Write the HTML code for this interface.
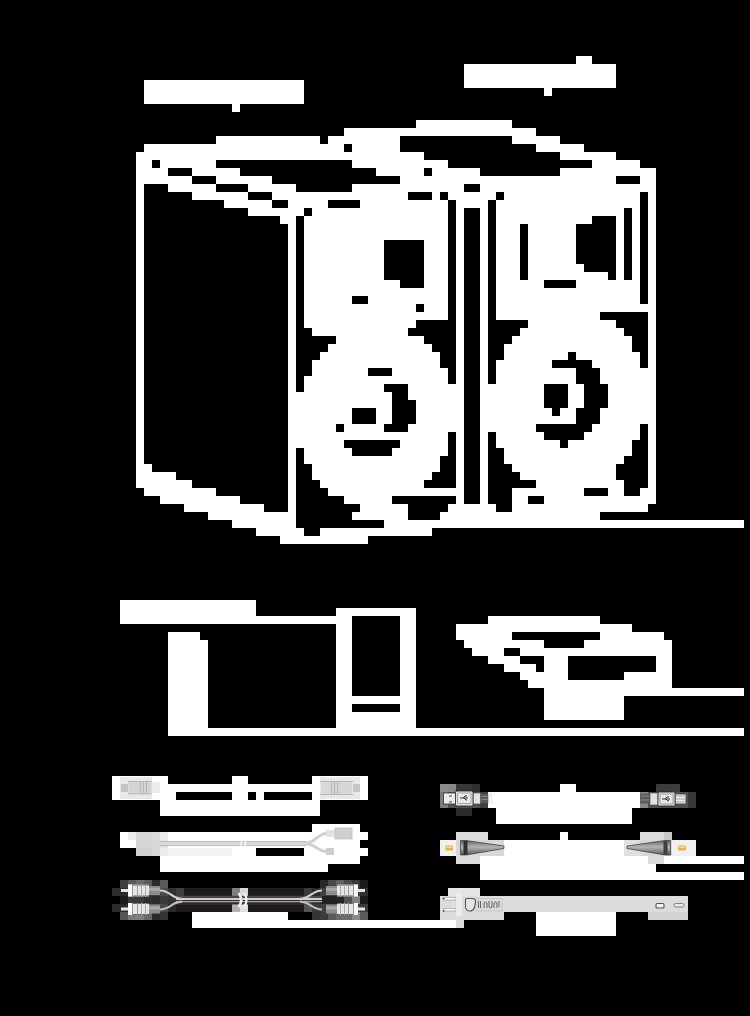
<!DOCTYPE html>
<html><head><meta charset="utf-8"><style>
html,body{margin:0;padding:0;background:#000;width:750px;height:1016px;overflow:hidden;font-family:"Liberation Sans",sans-serif}
svg{display:block}
</style></head><body>
<svg width="750" height="1016" viewBox="0 0 750 1016" >
<rect width="750" height="1016" fill="#000"/>
<rect x="576" y="56" width="16" height="8" fill="#fff"/>
<rect x="464" y="64" width="152" height="24" fill="#fff"/>
<rect x="144" y="80" width="160" height="24" fill="#fff"/>
<rect x="544" y="88" width="8" height="8" fill="#fff"/>
<rect x="232" y="104" width="8" height="8" fill="#fff"/>
<rect x="416" y="120" width="96" height="8" fill="#fff"/>
<rect x="344" y="128" width="192" height="8" fill="#fff"/>
<rect x="216" y="136" width="104" height="8" fill="#fff"/>
<rect x="328" y="136" width="72" height="8" fill="#fff"/>
<rect x="512" y="136" width="48" height="8" fill="#fff"/>
<rect x="144" y="144" width="200" height="8" fill="#fff"/>
<rect x="352" y="144" width="48" height="8" fill="#fff"/>
<rect x="536" y="144" width="48" height="8" fill="#fff"/>
<rect x="136" y="152" width="288" height="8" fill="#fff"/>
<rect x="560" y="152" width="56" height="8" fill="#fff"/>
<rect x="136" y="160" width="16" height="8" fill="#fff"/>
<rect x="136" y="464" width="16" height="8" fill="#fff"/>
<rect x="160" y="160" width="56" height="8" fill="#fff"/>
<rect x="352" y="160" width="96" height="8" fill="#fff"/>
<rect x="592" y="160" width="48" height="8" fill="#fff"/>
<rect x="592" y="360" width="48" height="8" fill="#fff"/>
<rect x="592" y="424" width="48" height="8" fill="#fff"/>
<rect x="136" y="168" width="32" height="8" fill="#fff"/>
<rect x="192" y="168" width="48" height="8" fill="#fff"/>
<rect x="376" y="168" width="48" height="8" fill="#fff"/>
<rect x="432" y="168" width="48" height="8" fill="#fff"/>
<rect x="560" y="168" width="96" height="8" fill="#fff"/>
<rect x="136" y="176" width="56" height="8" fill="#fff"/>
<rect x="136" y="480" width="56" height="8" fill="#fff"/>
<rect x="216" y="176" width="56" height="8" fill="#fff"/>
<rect x="400" y="176" width="216" height="8" fill="#fff"/>
<rect x="640" y="176" width="16" height="8" fill="#fff"/>
<rect x="640" y="488" width="16" height="8" fill="#fff"/>
<rect x="136" y="184" width="8" height="280" fill="#fff"/>
<rect x="168" y="184" width="48" height="8" fill="#fff"/>
<rect x="248" y="184" width="48" height="8" fill="#fff"/>
<rect x="352" y="184" width="112" height="8" fill="#fff"/>
<rect x="480" y="184" width="176" height="8" fill="#fff"/>
<rect x="480" y="864" width="176" height="8" fill="#fff"/>
<rect x="192" y="192" width="56" height="8" fill="#fff"/>
<rect x="272" y="192" width="136" height="8" fill="#fff"/>
<rect x="432" y="192" width="8" height="8" fill="#fff"/>
<rect x="448" y="192" width="48" height="8" fill="#fff"/>
<rect x="448" y="504" width="48" height="8" fill="#fff"/>
<rect x="504" y="192" width="136" height="8" fill="#fff"/>
<rect x="648" y="192" width="8" height="112" fill="#fff"/>
<rect x="648" y="312" width="8" height="56" fill="#fff"/>
<rect x="648" y="424" width="8" height="64" fill="#fff"/>
<rect x="224" y="200" width="48" height="8" fill="#fff"/>
<rect x="288" y="200" width="40" height="8" fill="#fff"/>
<rect x="360" y="200" width="88" height="8" fill="#fff"/>
<rect x="456" y="200" width="32" height="8" fill="#fff"/>
<rect x="496" y="200" width="144" height="8" fill="#fff"/>
<rect x="496" y="288" width="144" height="16" fill="#fff"/>
<rect x="248" y="208" width="56" height="8" fill="#fff"/>
<rect x="312" y="208" width="136" height="8" fill="#fff"/>
<rect x="456" y="208" width="8" height="176" fill="#fff"/>
<rect x="456" y="432" width="8" height="56" fill="#fff"/>
<rect x="456" y="496" width="8" height="8" fill="#fff"/>
<rect x="480" y="208" width="8" height="176" fill="#fff"/>
<rect x="480" y="432" width="8" height="72" fill="#fff"/>
<rect x="496" y="208" width="128" height="8" fill="#fff"/>
<rect x="632" y="208" width="8" height="72" fill="#fff"/>
<rect x="280" y="216" width="16" height="8" fill="#fff"/>
<rect x="304" y="216" width="144" height="24" fill="#fff"/>
<rect x="304" y="288" width="144" height="8" fill="#fff"/>
<rect x="304" y="312" width="144" height="8" fill="#fff"/>
<rect x="304" y="376" width="144" height="8" fill="#fff"/>
<rect x="496" y="216" width="96" height="8" fill="#fff"/>
<rect x="616" y="216" width="8" height="64" fill="#fff"/>
<rect x="288" y="224" width="8" height="168" fill="#fff"/>
<rect x="288" y="448" width="8" height="64" fill="#fff"/>
<rect x="496" y="224" width="24" height="56" fill="#fff"/>
<rect x="528" y="224" width="48" height="40" fill="#fff"/>
<rect x="304" y="240" width="80" height="40" fill="#fff"/>
<rect x="304" y="384" width="80" height="8" fill="#fff"/>
<rect x="424" y="240" width="24" height="48" fill="#fff"/>
<rect x="424" y="304" width="24" height="8" fill="#fff"/>
<rect x="528" y="264" width="56" height="8" fill="#fff"/>
<rect x="528" y="272" width="80" height="8" fill="#fff"/>
<rect x="304" y="280" width="96" height="8" fill="#fff"/>
<rect x="496" y="280" width="48" height="8" fill="#fff"/>
<rect x="496" y="432" width="48" height="8" fill="#fff"/>
<rect x="576" y="280" width="64" height="8" fill="#fff"/>
<rect x="576" y="352" width="64" height="8" fill="#fff"/>
<rect x="304" y="296" width="48" height="8" fill="#fff"/>
<rect x="304" y="448" width="48" height="8" fill="#fff"/>
<rect x="368" y="296" width="80" height="8" fill="#fff"/>
<rect x="304" y="304" width="112" height="8" fill="#fff"/>
<rect x="304" y="320" width="112" height="8" fill="#fff"/>
<rect x="496" y="304" width="160" height="8" fill="#fff"/>
<rect x="496" y="312" width="104" height="8" fill="#fff"/>
<rect x="528" y="320" width="88" height="8" fill="#fff"/>
<rect x="312" y="328" width="96" height="8" fill="#fff"/>
<rect x="520" y="328" width="104" height="8" fill="#fff"/>
<rect x="336" y="336" width="88" height="8" fill="#fff"/>
<rect x="512" y="336" width="120" height="8" fill="#fff"/>
<rect x="328" y="344" width="104" height="8" fill="#fff"/>
<rect x="504" y="344" width="128" height="8" fill="#fff"/>
<rect x="504" y="448" width="128" height="8" fill="#fff"/>
<rect x="320" y="352" width="120" height="8" fill="#fff"/>
<rect x="504" y="352" width="64" height="8" fill="#fff"/>
<rect x="312" y="360" width="128" height="8" fill="#fff"/>
<rect x="312" y="464" width="128" height="8" fill="#fff"/>
<rect x="496" y="360" width="56" height="8" fill="#fff"/>
<rect x="312" y="368" width="56" height="8" fill="#fff"/>
<rect x="312" y="776" width="56" height="8" fill="#fff"/>
<rect x="312" y="792" width="56" height="8" fill="#fff"/>
<rect x="392" y="368" width="56" height="8" fill="#fff"/>
<rect x="392" y="448" width="56" height="8" fill="#fff"/>
<rect x="496" y="368" width="80" height="16" fill="#fff"/>
<rect x="600" y="368" width="56" height="16" fill="#fff"/>
<rect x="600" y="408" width="56" height="16" fill="#fff"/>
<rect x="408" y="384" width="56" height="16" fill="#fff"/>
<rect x="408" y="424" width="56" height="8" fill="#fff"/>
<rect x="480" y="384" width="64" height="24" fill="#fff"/>
<rect x="568" y="384" width="16" height="24" fill="#fff"/>
<rect x="608" y="384" width="48" height="24" fill="#fff"/>
<rect x="288" y="392" width="104" height="16" fill="#fff"/>
<rect x="416" y="400" width="48" height="24" fill="#fff"/>
<rect x="288" y="408" width="64" height="16" fill="#fff"/>
<rect x="376" y="408" width="16" height="16" fill="#fff"/>
<rect x="480" y="408" width="72" height="8" fill="#fff"/>
<rect x="560" y="408" width="16" height="8" fill="#fff"/>
<rect x="560" y="784" width="16" height="8" fill="#fff"/>
<rect x="480" y="416" width="96" height="8" fill="#fff"/>
<rect x="288" y="424" width="48" height="8" fill="#fff"/>
<rect x="344" y="424" width="40" height="8" fill="#fff"/>
<rect x="480" y="424" width="56" height="8" fill="#fff"/>
<rect x="288" y="432" width="160" height="8" fill="#fff"/>
<rect x="584" y="432" width="56" height="8" fill="#fff"/>
<rect x="288" y="440" width="56" height="8" fill="#fff"/>
<rect x="400" y="440" width="48" height="8" fill="#fff"/>
<rect x="496" y="440" width="64" height="8" fill="#fff"/>
<rect x="568" y="440" width="64" height="8" fill="#fff"/>
<rect x="304" y="456" width="136" height="8" fill="#fff"/>
<rect x="504" y="456" width="120" height="8" fill="#fff"/>
<rect x="504" y="840" width="120" height="16" fill="#fff"/>
<rect x="512" y="464" width="104" height="8" fill="#fff"/>
<rect x="136" y="472" width="40" height="8" fill="#fff"/>
<rect x="312" y="472" width="120" height="8" fill="#fff"/>
<rect x="520" y="472" width="96" height="8" fill="#fff"/>
<rect x="320" y="480" width="104" height="8" fill="#fff"/>
<rect x="536" y="480" width="88" height="8" fill="#fff"/>
<rect x="144" y="488" width="72" height="8" fill="#fff"/>
<rect x="328" y="488" width="136" height="8" fill="#fff"/>
<rect x="512" y="488" width="72" height="8" fill="#fff"/>
<rect x="608" y="488" width="16" height="8" fill="#fff"/>
<rect x="160" y="496" width="80" height="8" fill="#fff"/>
<rect x="344" y="496" width="48" height="8" fill="#fff"/>
<rect x="512" y="496" width="16" height="8" fill="#fff"/>
<rect x="544" y="496" width="112" height="8" fill="#fff"/>
<rect x="184" y="504" width="80" height="8" fill="#fff"/>
<rect x="360" y="504" width="48" height="8" fill="#fff"/>
<rect x="512" y="504" width="136" height="8" fill="#fff"/>
<rect x="208" y="512" width="88" height="8" fill="#fff"/>
<rect x="352" y="512" width="56" height="8" fill="#fff"/>
<rect x="440" y="512" width="160" height="8" fill="#fff"/>
<rect x="232" y="520" width="64" height="8" fill="#fff"/>
<rect x="384" y="520" width="360" height="8" fill="#fff"/>
<rect x="256" y="528" width="48" height="8" fill="#fff"/>
<rect x="320" y="528" width="112" height="8" fill="#fff"/>
<rect x="280" y="536" width="88" height="8" fill="#fff"/>
<rect x="120" y="600" width="136" height="16" fill="#fff"/>
<rect x="336" y="608" width="80" height="8" fill="#fff"/>
<rect x="336" y="696" width="80" height="8" fill="#fff"/>
<rect x="336" y="712" width="80" height="16" fill="#fff"/>
<rect x="120" y="616" width="232" height="8" fill="#fff"/>
<rect x="400" y="616" width="16" height="80" fill="#fff"/>
<rect x="400" y="704" width="16" height="8" fill="#fff"/>
<rect x="488" y="616" width="112" height="8" fill="#fff"/>
<rect x="336" y="624" width="16" height="72" fill="#fff"/>
<rect x="336" y="704" width="16" height="8" fill="#fff"/>
<rect x="456" y="624" width="176" height="8" fill="#fff"/>
<rect x="168" y="632" width="32" height="8" fill="#fff"/>
<rect x="456" y="632" width="56" height="8" fill="#fff"/>
<rect x="600" y="632" width="64" height="8" fill="#fff"/>
<rect x="168" y="640" width="40" height="88" fill="#fff"/>
<rect x="464" y="640" width="80" height="8" fill="#fff"/>
<rect x="584" y="640" width="88" height="8" fill="#fff"/>
<rect x="472" y="648" width="32" height="8" fill="#fff"/>
<rect x="520" y="648" width="152" height="8" fill="#fff"/>
<rect x="488" y="656" width="32" height="8" fill="#fff"/>
<rect x="544" y="656" width="24" height="16" fill="#fff"/>
<rect x="656" y="656" width="16" height="16" fill="#fff"/>
<rect x="504" y="664" width="32" height="8" fill="#fff"/>
<rect x="520" y="672" width="48" height="8" fill="#fff"/>
<rect x="624" y="672" width="48" height="8" fill="#fff"/>
<rect x="528" y="680" width="144" height="8" fill="#fff"/>
<rect x="544" y="688" width="200" height="8" fill="#fff"/>
<rect x="544" y="696" width="80" height="24" fill="#fff"/>
<rect x="168" y="728" width="576" height="8" fill="#fff"/>
<rect x="112" y="776" width="56" height="8" fill="#fff"/>
<rect x="232" y="776" width="16" height="8" fill="#fff"/>
<rect x="232" y="792" width="16" height="8" fill="#fff"/>
<rect x="112" y="784" width="256" height="8" fill="#fff"/>
<rect x="440" y="784" width="8" height="8" fill="#8c8c8c"/>
<rect x="448" y="784" width="8" height="8" fill="#888888"/>
<rect x="456" y="784" width="16" height="8" fill="#383838"/>
<rect x="472" y="784" width="8" height="8" fill="#303030"/>
<rect x="656" y="784" width="24" height="8" fill="#3c3c3c"/>
<rect x="112" y="792" width="64" height="8" fill="#fff"/>
<rect x="256" y="792" width="8" height="8" fill="#fff"/>
<rect x="440" y="792" width="8" height="16" fill="#7a7a7a"/>
<rect x="448" y="792" width="32" height="16" fill="#505050"/>
<rect x="480" y="792" width="8" height="16" fill="#404040"/>
<rect x="488" y="792" width="152" height="16" fill="#fff"/>
<rect x="640" y="792" width="8" height="16" fill="#888888"/>
<rect x="648" y="792" width="40" height="16" fill="#505050"/>
<rect x="688" y="792" width="8" height="16" fill="#383838"/>
<rect x="160" y="800" width="160" height="16" fill="#fff"/>
<rect x="456" y="808" width="16" height="8" fill="#2a2a2a"/>
<rect x="496" y="808" width="136" height="16" fill="#fff"/>
<rect x="312" y="824" width="48" height="8" fill="#fff"/>
<rect x="120" y="832" width="8" height="8" fill="#fff"/>
<rect x="128" y="832" width="8" height="8" fill="#ececec"/>
<rect x="136" y="832" width="16" height="8" fill="#d8d8d8"/>
<rect x="152" y="832" width="8" height="8" fill="#dcdcdc"/>
<rect x="160" y="832" width="8" height="8" fill="#ececec"/>
<rect x="160" y="848" width="8" height="8" fill="#ececec"/>
<rect x="168" y="832" width="200" height="8" fill="#fff"/>
<rect x="456" y="832" width="32" height="8" fill="#dcdcdc"/>
<rect x="560" y="832" width="8" height="8" fill="#fff"/>
<rect x="640" y="832" width="24" height="8" fill="#dcdcdc"/>
<rect x="664" y="832" width="8" height="8" fill="#c8c8c8"/>
<rect x="120" y="840" width="16" height="8" fill="#fff"/>
<rect x="136" y="840" width="16" height="8" fill="#d4d6d6"/>
<rect x="152" y="840" width="8" height="16" fill="#d8d8d8"/>
<rect x="160" y="840" width="8" height="8" fill="#e4e4e4"/>
<rect x="168" y="840" width="192" height="8" fill="#fff"/>
<rect x="440" y="840" width="16" height="16" fill="#f0f0f0"/>
<rect x="456" y="840" width="48" height="16" fill="#d8d8d8"/>
<rect x="624" y="840" width="16" height="16" fill="#e0e0e0"/>
<rect x="640" y="840" width="32" height="16" fill="#d8d8d8"/>
<rect x="672" y="840" width="24" height="16" fill="#f0f0f0"/>
<rect x="136" y="848" width="16" height="8" fill="#d0d0d0"/>
<rect x="168" y="848" width="64" height="8" fill="#f2f2f2"/>
<rect x="232" y="848" width="24" height="8" fill="#fff"/>
<rect x="304" y="848" width="64" height="8" fill="#fff"/>
<rect x="160" y="856" width="200" height="8" fill="#fff"/>
<rect x="456" y="856" width="24" height="8" fill="#dcdcdc"/>
<rect x="480" y="856" width="168" height="8" fill="#fff"/>
<rect x="648" y="856" width="16" height="8" fill="#dcdcdc"/>
<rect x="664" y="856" width="80" height="8" fill="#fff"/>
<rect x="160" y="864" width="168" height="8" fill="#fff"/>
<rect x="480" y="872" width="264" height="8" fill="#fff"/>
<rect x="120" y="880" width="8" height="8" fill="#3c3c3c"/>
<rect x="128" y="880" width="8" height="8" fill="#5a5a5a"/>
<rect x="136" y="880" width="8" height="8" fill="#6a6a6a"/>
<rect x="144" y="880" width="8" height="8" fill="#5a5a5a"/>
<rect x="152" y="880" width="8" height="8" fill="#2a2a2a"/>
<rect x="152" y="896" width="8" height="8" fill="#2a2a2a"/>
<rect x="152" y="912" width="8" height="8" fill="#2a2a2a"/>
<rect x="160" y="880" width="8" height="8" fill="#5a5a5a"/>
<rect x="320" y="880" width="8" height="8" fill="#2a2a2a"/>
<rect x="328" y="880" width="8" height="8" fill="#4a4a4a"/>
<rect x="336" y="880" width="8" height="8" fill="#606060"/>
<rect x="344" y="880" width="8" height="8" fill="#4a4a4a"/>
<rect x="352" y="880" width="8" height="8" fill="#3a3a3a"/>
<rect x="360" y="880" width="8" height="8" fill="#1a1a1a"/>
<rect x="360" y="896" width="8" height="8" fill="#1a1a1a"/>
<rect x="112" y="888" width="8" height="8" fill="#2c2c2c"/>
<rect x="120" y="888" width="8" height="8" fill="#2a2a2a"/>
<rect x="128" y="888" width="32" height="8" fill="#404040"/>
<rect x="128" y="904" width="32" height="8" fill="#404040"/>
<rect x="160" y="888" width="8" height="8" fill="#4a4a4a"/>
<rect x="160" y="904" width="8" height="8" fill="#4a4a4a"/>
<rect x="168" y="888" width="8" height="8" fill="#303030"/>
<rect x="176" y="888" width="8" height="8" fill="#404040"/>
<rect x="184" y="888" width="48" height="8" fill="#1c1c1c"/>
<rect x="232" y="888" width="8" height="8" fill="#808080"/>
<rect x="240" y="888" width="8" height="8" fill="#d8d8d8"/>
<rect x="248" y="888" width="56" height="8" fill="#1c1c1c"/>
<rect x="248" y="904" width="56" height="8" fill="#1c1c1c"/>
<rect x="304" y="888" width="8" height="8" fill="#3a3a3a"/>
<rect x="312" y="888" width="8" height="8" fill="#2a2a2a"/>
<rect x="320" y="888" width="40" height="8" fill="#404040"/>
<rect x="320" y="904" width="40" height="8" fill="#404040"/>
<rect x="360" y="888" width="8" height="8" fill="#303030"/>
<rect x="448" y="888" width="32" height="8" fill="#e4e4e4"/>
<rect x="120" y="896" width="8" height="8" fill="#1a1a1a"/>
<rect x="128" y="896" width="16" height="8" fill="#3a3a3a"/>
<rect x="144" y="896" width="8" height="8" fill="#303030"/>
<rect x="160" y="896" width="8" height="8" fill="#3a3a3a"/>
<rect x="168" y="896" width="8" height="8" fill="#333333"/>
<rect x="176" y="896" width="128" height="8" fill="#1c1c1c"/>
<rect x="304" y="896" width="8" height="8" fill="#333333"/>
<rect x="312" y="896" width="24" height="8" fill="#222222"/>
<rect x="336" y="896" width="8" height="8" fill="#252525"/>
<rect x="344" y="896" width="8" height="8" fill="#505050"/>
<rect x="352" y="896" width="8" height="8" fill="#808080"/>
<rect x="440" y="896" width="248" height="16" fill="#dcdcdc"/>
<rect x="112" y="904" width="16" height="8" fill="#2a2a2a"/>
<rect x="168" y="904" width="8" height="8" fill="#2a2a2a"/>
<rect x="176" y="904" width="56" height="8" fill="#1c1c1c"/>
<rect x="232" y="904" width="8" height="8" fill="#b0b0b0"/>
<rect x="240" y="904" width="8" height="8" fill="#e0e0e0"/>
<rect x="304" y="904" width="8" height="8" fill="#555555"/>
<rect x="312" y="904" width="8" height="8" fill="#3a3a3a"/>
<rect x="360" y="904" width="8" height="8" fill="#3a3a3a"/>
<rect x="120" y="912" width="8" height="8" fill="#555555"/>
<rect x="128" y="912" width="8" height="8" fill="#7a7a7a"/>
<rect x="136" y="912" width="8" height="8" fill="#808080"/>
<rect x="144" y="912" width="8" height="8" fill="#6a6a6a"/>
<rect x="160" y="912" width="8" height="8" fill="#333333"/>
<rect x="192" y="912" width="96" height="8" fill="#fff"/>
<rect x="312" y="912" width="8" height="8" fill="#333333"/>
<rect x="320" y="912" width="8" height="8" fill="#3a3a3a"/>
<rect x="328" y="912" width="8" height="8" fill="#5a5a5a"/>
<rect x="336" y="912" width="16" height="8" fill="#6a6a6a"/>
<rect x="352" y="912" width="8" height="8" fill="#8a8a8a"/>
<rect x="360" y="912" width="8" height="8" fill="#5a5a5a"/>
<rect x="440" y="912" width="64" height="8" fill="#dcdcdc"/>
<rect x="536" y="912" width="80" height="24" fill="#fff"/>
<rect x="648" y="912" width="40" height="8" fill="#d4d4d4"/>
<rect x="192" y="920" width="264" height="8" fill="#fff"/>
<rect x="456" y="920" width="8" height="8" fill="#dcdcdc"/>
<!-- cable 1 connectors -->
<g>
<rect x="120" y="777" width="32" height="22" fill="#e8e8e8"/>
<rect x="128.5" y="782" width="23" height="11.5" fill="#d4d4d4"/>
<rect x="140" y="782" width="1" height="11.5" fill="#b5b5b5"/><rect x="143" y="782" width="1" height="11.5" fill="#b5b5b5"/><rect x="146" y="782" width="1" height="11.5" fill="#b5b5b5"/>
<rect x="121" y="784" width="7" height="8" fill="#c4c4c4"/>
<rect x="152" y="782" width="8" height="11" fill="#ececec"/>
<rect x="128" y="781" width="24" height="0.8" fill="#aaa"/><rect x="128" y="793.5" width="24" height="0.8" fill="#aaa"/>
<rect x="320" y="777" width="40" height="22" fill="#e8e8e8"/>
<rect x="329" y="782" width="23" height="12" fill="#d6d6d6"/>
<rect x="321" y="782" width="8" height="12" fill="#dadada"/>
<rect x="331" y="782" width="1" height="12" fill="#b8b8b8"/><rect x="334" y="782" width="1" height="12" fill="#b8b8b8"/><rect x="337" y="782" width="1" height="12" fill="#b8b8b8"/>
<rect x="353" y="784" width="7" height="8" fill="#c6c6c6"/>
<rect x="320" y="781" width="33" height="0.8" fill="#aaa"/><rect x="320" y="794" width="33" height="0.8" fill="#aaa"/>
</g>
<!-- Y cable -->
<g>
<rect x="160" y="841" width="146" height="5" fill="#dadada"/>
<rect x="160" y="841" width="146" height="0.9" fill="#b8b8b8"/><rect x="160" y="845.2" width="146" height="0.9" fill="#b8b8b8"/>
<path d="M240,839 q3,4 0,9 M244,839 q3,4 0,9" stroke="#fff" stroke-width="1.2" fill="none"/>
<path d="M305,843.5 C315,843.5 317,833.5 327,833.5" stroke="#d0d0d0" stroke-width="3" fill="none"/>
<path d="M305,843.5 C315,843.5 317,851.5 327,851.5" stroke="#d0d0d0" stroke-width="3" fill="none"/>
<rect x="326" y="830" width="9" height="7" fill="#e2e2e2"/>
<rect x="335" y="828" width="17" height="11" fill="#cfcfcf" stroke="#bdbdbd" stroke-width="0.8"/>
<rect x="326" y="848" width="8" height="7" fill="#cccccc"/>
</g>
<!-- RCA cable -->
<g>
<rect x="176" y="895.8" width="146" height="1.2" fill="#5a4444"/>
<rect x="176" y="897.8" width="146" height="2.3" fill="#d2d2d2"/>
<rect x="176" y="901" width="146" height="1.3" fill="#aaaaaa"/>
<rect x="176" y="903.5" width="146" height="1" fill="#4a3838"/>
<path d="M160,890.5 C170,890.5 172,898.8 182,898.8" stroke="#cfcfcf" stroke-width="2.2" fill="none"/>
<path d="M160,909.5 C170,909.5 172,901.6 182,901.6" stroke="#bdbdbd" stroke-width="2.2" fill="none"/>
<path d="M322,890.5 C312,890.5 310,898.8 300,898.8" stroke="#cfcfcf" stroke-width="2.2" fill="none"/>
<path d="M322,909.5 C312,909.5 310,901.6 300,901.6" stroke="#bdbdbd" stroke-width="2.2" fill="none"/>
<path d="M238.5,893 q5,7 0,14 M244,893 q5,7 0,14" stroke="#f4f4f4" stroke-width="2.2" fill="none"/>
<path d="M241,896 q2,4 0,8" stroke="#e0e0e0" stroke-width="1.5" fill="none"/>
</g>
<g>
<rect x="121" y="889" width="7" height="3" fill="#e4e4e4"/>
<rect x="128" y="884.5" width="21" height="12" fill="#e6e6e6"/>
<rect x="128" y="884.5" width="21" height="1" fill="#666"/><rect x="128" y="895.5" width="21" height="1" fill="#666"/>
<rect x="132" y="884.5" width="1" height="12" fill="#999"/><rect x="137" y="884.5" width="1" height="12" fill="#999"/><rect x="141" y="884.5" width="1" height="12" fill="#aaa"/><rect x="145" y="884.5" width="1" height="12" fill="#aaa"/>
<rect x="128" y="884.5" width="4" height="12" fill="#fafafa"/>
<rect x="149" y="886" width="11" height="9" fill="#8c8c8c"/>
<rect x="149" y="888" width="11" height="3" fill="#a8a8a8"/>
</g>
<g transform="translate(0,18.5)">
<rect x="121" y="889" width="7" height="3" fill="#e4e4e4"/>
<rect x="128" y="884.5" width="21" height="12" fill="#e6e6e6"/>
<rect x="128" y="884.5" width="21" height="1" fill="#666"/><rect x="128" y="895.5" width="21" height="1" fill="#666"/>
<rect x="132" y="884.5" width="1" height="12" fill="#999"/><rect x="137" y="884.5" width="1" height="12" fill="#999"/><rect x="141" y="884.5" width="1" height="12" fill="#aaa"/><rect x="145" y="884.5" width="1" height="12" fill="#aaa"/>
<rect x="128" y="884.5" width="4" height="12" fill="#fafafa"/>
<rect x="149" y="886" width="11" height="9" fill="#8c8c8c"/>
<rect x="149" y="888" width="11" height="3" fill="#a8a8a8"/>
</g>
<g transform="translate(486,0) scale(-1,1)">
<rect x="121" y="889" width="7" height="3" fill="#e4e4e4"/>
<rect x="128" y="884.5" width="21" height="12" fill="#e6e6e6"/>
<rect x="128" y="884.5" width="21" height="1" fill="#666"/><rect x="128" y="895.5" width="21" height="1" fill="#666"/>
<rect x="132" y="884.5" width="1" height="12" fill="#999"/><rect x="137" y="884.5" width="1" height="12" fill="#999"/><rect x="141" y="884.5" width="1" height="12" fill="#aaa"/><rect x="145" y="884.5" width="1" height="12" fill="#aaa"/>
<rect x="128" y="884.5" width="4" height="12" fill="#fafafa"/>
<rect x="149" y="886" width="11" height="9" fill="#8c8c8c"/>
<rect x="149" y="888" width="11" height="3" fill="#a8a8a8"/>
</g>
<g transform="translate(486,18.5) scale(-1,1)">
<rect x="121" y="889" width="7" height="3" fill="#e4e4e4"/>
<rect x="128" y="884.5" width="21" height="12" fill="#e6e6e6"/>
<rect x="128" y="884.5" width="21" height="1" fill="#666"/><rect x="128" y="895.5" width="21" height="1" fill="#666"/>
<rect x="132" y="884.5" width="1" height="12" fill="#999"/><rect x="137" y="884.5" width="1" height="12" fill="#999"/><rect x="141" y="884.5" width="1" height="12" fill="#aaa"/><rect x="145" y="884.5" width="1" height="12" fill="#aaa"/>
<rect x="128" y="884.5" width="4" height="12" fill="#fafafa"/>
<rect x="149" y="886" width="11" height="9" fill="#8c8c8c"/>
<rect x="149" y="888" width="11" height="3" fill="#a8a8a8"/>
</g>
<!-- USB A left -->
<g>
<rect x="443.5" y="793" width="12.5" height="11" fill="#ececec" stroke="#333" stroke-width="0.8"/>
<rect x="449" y="795" width="3" height="2" fill="#999"/><rect x="449" y="801" width="3" height="2" fill="#999"/>
<rect x="480.5" y="794" width="8" height="9" fill="#5a5a5a"/>
<rect x="481.5" y="796" width="6" height="1" fill="#888"/><rect x="481.5" y="799" width="6" height="1" fill="#888"/>
<rect x="473" y="793" width="7.5" height="11" fill="#e4e4e4" stroke="#444" stroke-width="0.6"/>
<rect x="455.5" y="791" width="17.5" height="15" rx="1.5" fill="#dedede" stroke="#222" stroke-width="0.8"/>
<rect x="457.5" y="793" width="13.5" height="10.5" rx="1" fill="#e8e8e8" stroke="#777" stroke-width="0.6"/>
<path d="M460,798 h8 M463,798 l2,-2 h2 M464,798 l2,2 h1" stroke="#333" stroke-width="1" fill="none"/>
<rect x="488.5" y="793" width="4" height="11" fill="#f2f2f2"/>
</g>
<!-- USB B right -->
<g>
<rect x="640" y="793.5" width="10" height="10" fill="#5a5a5a"/>
<rect x="641" y="795.5" width="8" height="1" fill="#8a8a8a"/><rect x="641" y="799.5" width="8" height="1" fill="#8a8a8a"/>
<rect x="650" y="793" width="8" height="12" fill="#e2e2e2" stroke="#444" stroke-width="0.6"/>
<rect x="675" y="794" width="11" height="10" fill="#c8c8c8" stroke="#444" stroke-width="0.6"/>
<rect x="676" y="797" width="9" height="1" fill="#eee"/><rect x="676" y="800" width="9" height="1" fill="#eee"/>
<rect x="658" y="792" width="17" height="14" rx="1.5" fill="#dcdcdc" stroke="#222" stroke-width="0.8"/>
<rect x="660" y="794" width="13" height="10" rx="1" fill="#e6e6e6" stroke="#777" stroke-width="0.6"/>
<path d="M662,799 h8 M665,799 l2,-2 h2 M666,799 l2,2 h1" stroke="#333" stroke-width="1" fill="none"/>
</g>
<!-- optical -->
<defs><linearGradient id="og" x1="0" y1="0" x2="0" y2="1"><stop offset="0" stop-color="#666"/><stop offset="0.45" stop-color="#b4b4b4"/><stop offset="1" stop-color="#5a5a5a"/></linearGradient></defs>
<g>
<rect x="445.5" y="845.5" width="7.5" height="5" rx="1" fill="#f0b040"/>
<rect x="446.5" y="846.5" width="5.5" height="1.5" fill="#ffe080"/>
<path d="M460.5,840.5 L466,840.5 L504,846 L504,848.5 L466,855 L460.5,855 Z" fill="url(#og)" stroke="#222" stroke-width="0.6"/>
<rect x="463.5" y="841" width="4" height="13.5" fill="#3a2c2c"/>
<rect x="678" y="845.5" width="8" height="5" rx="1" fill="#f0b040"/>
<rect x="679" y="846.5" width="6" height="1.5" fill="#ffe080"/>
<path d="M670.5,840.5 L665,840.5 L627,846 L627,848.5 L665,855 L670.5,855 Z" fill="url(#og)" stroke="#222" stroke-width="0.6"/>
<rect x="663.5" y="841" width="4" height="13.5" fill="#404040"/>
</g>
<!-- power plug -->
<g>
<rect x="444" y="897.5" width="12" height="2.5" fill="#f8f8f8" stroke="#888" stroke-width="0.5"/>
<rect x="444" y="908.5" width="12" height="2.5" fill="#f8f8f8" stroke="#888" stroke-width="0.5"/>
<circle cx="443.5" cy="898.5" r="0.8" fill="#333"/><circle cx="443.5" cy="911" r="0.8" fill="#333"/>
<rect x="456" y="893" width="6" height="23" fill="#ececec"/>
<rect x="476" y="898.5" width="26" height="12.5" fill="none" stroke="#c0c0c0" stroke-width="0.8"/>
<path d="M466.5,898.5 L472.5,898.5 Q476,898.5 475.5,902.5 L474.5,907 Q473.5,911 470,911 L469.5,911 Q466,911 465.5,907 L465.5,900 Q465.5,898.5 466.5,898.5 Z" fill="#e4e4e4" stroke="#555" stroke-width="1.1"/>
<path d="M478.5,901 v7 M480.5,901 v7 M484,908 v-5 q1.5,-2 3,0 v5 M489,901 v6 q1.5,2 3,0 v-6 M494,908 v-5 q1.5,-2 3,0 v5 M499,901 v6" stroke="#555" stroke-width="0.9" fill="none"/>
<rect x="656" y="903.5" width="8" height="4.5" rx="1" fill="#eeeeee" stroke="#555" stroke-width="1.1"/>
<rect x="674" y="903.5" width="10" height="3.5" rx="1.5" fill="#e8e8e8" stroke="#777" stroke-width="0.9"/>
</g>

</svg>
</body></html>
